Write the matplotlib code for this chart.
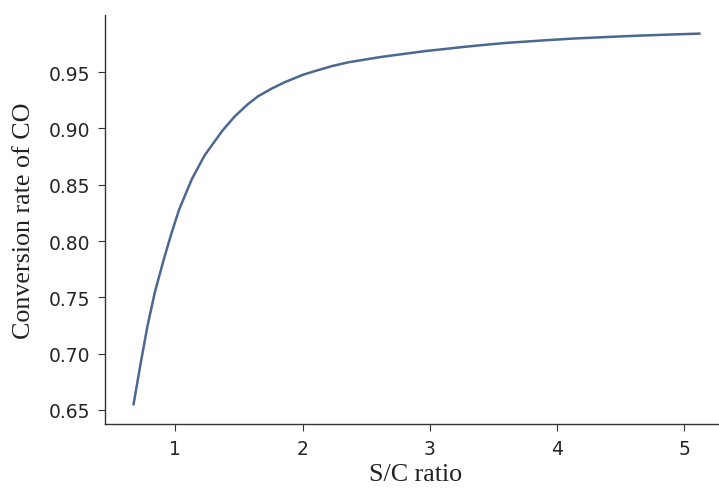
import matplotlib
matplotlib.use("Agg")
import matplotlib.pyplot as plt

sc_ratio = [0.67, 0.73, 0.78, 0.84, 0.91, 0.97, 1.03, 1.13, 1.23, 1.37, 1.47,
            1.57, 1.65, 1.76, 1.86, 2.0, 2.1, 2.23, 2.36, 2.5, 2.62, 2.8,
            2.96, 3.1, 3.27, 3.45, 3.61, 3.9, 4.13, 4.4, 4.65, 4.9, 5.13]
co_conversion = [0.654, 0.693, 0.724, 0.755, 0.784, 0.807, 0.828, 0.855, 0.876,
                 0.898, 0.911, 0.9215, 0.9285, 0.9355, 0.941, 0.9475, 0.951,
                 0.9553, 0.9587, 0.9613, 0.9635, 0.9662, 0.9686, 0.9703,
                 0.9724, 0.9744, 0.976, 0.9782, 0.9798, 0.9812, 0.9824, 0.9834,
                 0.9842]

fig = plt.figure(figsize=(7.19, 4.89), dpi=100)
W, H = 719, 489
left, right, top, bottom = 105, 729, 16, 425
ax = fig.add_axes([left / W, 1 - bottom / H, (right - left) / W, (bottom - top) / H])

ax.plot(sc_ratio, co_conversion, color="#4a6890", linewidth=1.8,
        solid_capstyle="butt", solid_joinstyle="round")

ax.spines["top"].set_visible(False)
ax.spines["right"].set_visible(False)
for s in ("left", "bottom"):
    ax.spines[s].set_color("#333333")
    ax.spines[s].set_linewidth(1.0)

ax.set_xticks([1, 2, 3, 4, 5])
ax.set_yticks([0.65, 0.70, 0.75, 0.80, 0.85, 0.90, 0.95])
ax.tick_params(labelsize=13.5, colors="#333333", labelcolor="#262626",
               length=5, pad=5.5)

ax.set_xlabel("S/C ratio", family="Liberation Serif", fontsize=18.7,
              color="#222222", va="center")
ax.set_ylabel("Conversion rate of CO", family="Liberation Serif", fontsize=18.7,
              color="#222222", va="center")
ax.xaxis.set_label_coords((416 - left) / (right - left), -(475 - bottom) / (bottom - top))
ax.yaxis.set_label_coords(-(105 - 24) / (right - left), (bottom - 221) / (bottom - top))

fig.savefig("out.png", dpi=100)
